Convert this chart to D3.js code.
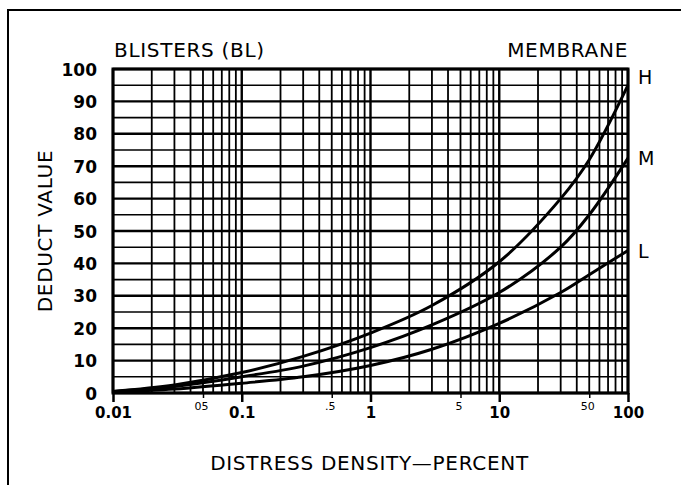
<!DOCTYPE html>
<html>
<head>
<meta charset="utf-8">
<script src="https://cdn.jsdelivr.net/npm/d3@7"></script>
<style>
  body { margin: 0; background: #fff; }
  svg { display: block; }
  text { font-family: "DejaVu Sans", sans-serif; fill: #000; }
  .tick-big text { font-weight: bold; font-size: 15px; }
  .tick-y text { font-weight: bold; font-size: 17px; }
  .tick-small text { font-size: 11px; }
  .title { font-size: 20px; letter-spacing: 0.7px; }
</style>
</head>
<body>
<div id="chart"></div>
<script>
// deduct curves (density % -> deduct value)
const density = [0.01, 0.03, 0.1, 0.3, 1, 3, 10, 30, 50, 100]
const high = [0.5, 2.5, 6.3, 11.3, 18.5, 27, 40.5, 60, 72, 95]
const medium = [0.5, 2.0, 5, 8.3, 14, 21, 31, 45, 55, 72.5]
const low = [0.3, 1.2, 3, 5, 8.5, 13.5, 21.5, 31, 36.5, 44]

const majorTicks = [0.01, 0.1, 1, 10, 100]
const majorLabels = ['0.01', '0.1', '1', '10', '100']
const minorTicks = [0.05, 0.5, 5, 50]
const minorLabels = ['05', '.5', '5', '50']
const yTicks = [0, 10, 20, 30, 40, 50, 60, 70, 80, 90, 100]

const width = 681, height = 485
const margin = {top: 69, right: 53, bottom: 92, left: 113}
const w = width - margin.left - margin.right
const h = height - margin.top - margin.bottom

const svg = d3.select('#chart').append('svg')
  .attr('width', width).attr('height', height)

// scan frame
svg.append('path')
  .attr('d', `M8,${height} V10 H${width}`)
  .attr('fill', 'none').attr('stroke', '#000').attr('stroke-width', 2)

const x = d3.scaleLog().domain([0.01, 100]).range([0, w])
const y = d3.scaleLinear().domain([0, 100]).range([h, 0])

const g = svg.append('g').attr('transform', `translate(${margin.left},${margin.top})`)

// grid
g.append('g').selectAll('line').data(x.ticks())
  .join('line')
  .attr('x1', d => x(d)).attr('x2', d => x(d))
  .attr('y1', 0).attr('y2', h)
  .attr('stroke', '#000')
  .attr('stroke-width', d => majorTicks.includes(d) ? 2.4 : 1.8)

g.append('g').selectAll('line').data(y.ticks(20))
  .join('line')
  .attr('x1', 0).attr('x2', w)
  .attr('y1', d => y(d)).attr('y2', d => y(d))
  .attr('stroke', '#000')
  .attr('stroke-width', d => d % 10 === 0 ? 2.4 : 1.6)

g.append('rect')
  .attr('width', w).attr('height', h)
  .attr('fill', 'none').attr('stroke', '#000').attr('stroke-width', 3)

// curves
const line = d3.line()
  .x((d, i) => x(density[i]))
  .y(d => y(d))
  .curve(d3.curveCatmullRom.alpha(0.5))

g.selectAll('.curve').data([high, medium, low])
  .join('path')
  .attr('class', 'curve')
  .attr('d', line)
  .attr('fill', 'none').attr('stroke', '#000').attr('stroke-width', 3)

// axes
const xMajor = g.append('g')
  .attr('class', 'tick-big')
  .attr('transform', `translate(0,${h})`)
  .call(d3.axisBottom(x).tickValues(majorTicks).tickSize(9).tickPadding(5)
    .tickFormat((d, i) => majorLabels[i]))
xMajor.select('.domain').remove()
xMajor.selectAll('line').attr('stroke-width', 2.5)

const xMinor = g.append('g')
  .attr('class', 'tick-small')
  .attr('transform', `translate(0,${h})`)
  .call(d3.axisBottom(x).tickValues(minorTicks).tickSize(5).tickPadding(4)
    .tickFormat((d, i) => minorLabels[i]))
xMinor.select('.domain').remove()
xMinor.selectAll('line').attr('stroke-width', 1.5)
xMinor.selectAll('text').attr('dx', -2)

const yAxis = g.append('g')
  .attr('class', 'tick-y')
  .call(d3.axisLeft(y).tickValues(yTicks).tickSize(0).tickPadding(16))
yAxis.select('.domain').remove()
yAxis.selectAll('text').attr('dy', '0.36em')

// titles
svg.append('text').attr('class', 'title').attr('x', 114).attr('y', 57)
  .text('BLISTERS (BL)')
svg.append('text').attr('class', 'title').attr('x', margin.left + w).attr('y', 57)
  .attr('text-anchor', 'end').text('MEMBRANE')
svg.append('text').attr('class', 'title')
  .attr('transform', `translate(52,${margin.top + h / 2}) rotate(-90)`)
  .attr('text-anchor', 'middle').text('DEDUCT VALUE')
svg.append('text').attr('class', 'title').attr('x', margin.left + w / 2 - 1).attr('y', 470)
  .attr('text-anchor', 'middle').text('DISTRESS DENSITY—PERCENT')

// severity labels
const series = [['H', high, -1], ['M', medium, 7], ['L', low, 8]]
svg.selectAll('.sev').data(series)
  .join('text')
  .attr('class', 'sev')
  .attr('x', margin.left + w + 10)
  .attr('y', d => margin.top + y(d[1][d[1].length - 1]) + d[2])
  .style('font-size', '19px')
  .text(d => d[0])
</script>
</body>
</html>
